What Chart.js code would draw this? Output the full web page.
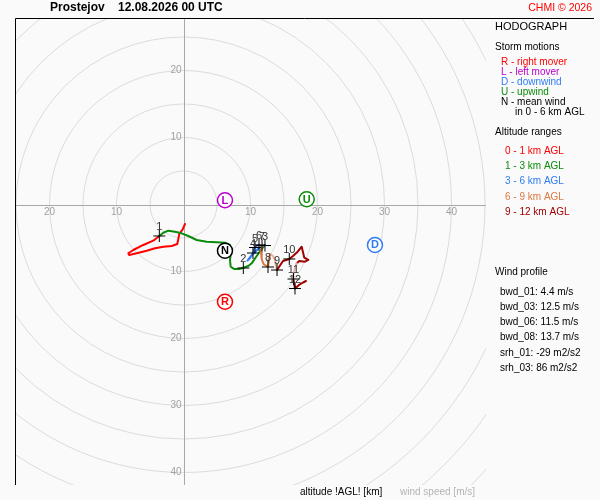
<!DOCTYPE html>
<html><head><meta charset="utf-8">
<script src="https://cdn.jsdelivr.net/npm/chart.js@4.4.1/dist/chart.umd.min.js"></script>
<style>html,body{margin:0;padding:0;background:#fafafa;}#wrap{width:600px;height:500px;}</style>
</head><body><div id="wrap"><canvas id="c" width="600" height="500"></canvas></div>
<script>
// ---- data (u, v in m/s) ----
const seg01U = [0.22,-0.12,-0.63,-0.78,-0.93,-1.76,-3.01,-4.25,-5.49,-6.99,-8.09,-8.24,-7.49,-6.00,-4.51,-3.61];
const seg01V = [-2.91,-3.70,-4.40,-5.19,-5.90,-6.19,-6.30,-6.54,-6.90,-7.28,-7.54,-7.28,-6.79,-6.04,-5.40,-4.70];
const seg13U = [-3.61,-3.01,-2.27,-1.27,-0.27,0.72,1.97,3.46,4.96,6.19,6.94,7.09,6.94,7.04,7.54,8.33,8.93,9.67,10.18,10.82,11.57,12.16];
const seg13V = [-4.70,-4.21,-3.91,-4.06,-4.30,-4.70,-5.30,-5.55,-5.64,-5.70,-6.04,-7.04,-8.28,-9.28,-9.63,-9.63,-9.43,-9.18,-8.78,-7.84,-6.79,-6.04];
const seg36U = [12.16,11.12,10.07,9.55,9.93,10.37,10.52,10.67,10.97,11.27];
const seg36V = [-6.04,-6.64,-7.69,-8.36,-7.99,-7.24,-6.79,-6.34,-6.12,-6.04];
const seg69U = [11.27,11.72,11.57,11.67,11.94,12.61,12.76,12.91];
const seg69V = [-6.04,-6.19,-7.09,-8.13,-8.88,-9.33,-8.28,-7.39];
const seg89U = [12.91,13.36,13.66,13.81,13.96];
const seg89V = [-7.39,-7.69,-8.28,-9.18,-9.78];
const seg912U = [13.96,14.85,15.79,16.39,17.04,17.64,17.79,18.03,18.63,18.13,17.28,16.90];
const seg912V = [-9.78,-8.43,-8.13,-7.64,-7.04,-6.30,-6.94,-7.94,-8.28,-8.54,-8.43,-8.78];
const seg1011U = [16.90,16.64,16.39,16.42];
const seg1011V = [-8.78,-9.52,-10.52,-11.27];
const seg1112U = [16.42,16.64,17.24,17.84,18.28];
const seg1112V = [-11.27,-12.54,-12.01,-11.64,-11.42];

const kmLabels = ['1','2','3','4','5','6','7','8','9','10','11','12'];
const kmU = [-3.61,8.93,12.16,10.37,10.67,11.27,11.72,12.61,13.96,15.79,16.42,16.64];
const kmV = [-4.70,-9.48,-6.12,-7.24,-6.42,-6.04,-6.12,-9.33,-9.78,-8.13,-11.12,-12.54];

const stormLabels = ['R','L','D','U','N'];
const stormU = [6.19,6.19,28.58,18.39,6.19];
const stormV = [-14.51,0.63,-6.04,0.78,-6.90];

const ringSpeeds = [5,10,15,20,25,30,35,40,45,50,55,60,65];
const tickSpeeds = [10,20,30,40];
const tickLabels = ['10','20','30','40'];

const windProfile = ['bwd_01: 4.4 m/s','bwd_03: 12.5 m/s','bwd_06: 11.5 m/s','bwd_08: 13.7 m/s'];
const helicity = ['srh_01: -29 m2/s2','srh_03: 86 m2/s2'];

// ---- styles ----
const C_RED='#ff0000', C_GREEN='#0a8c0a', C_BLUE='#2f7cf6', C_ORANGE='#d9783f', C_DRED='#a00000', C_PURPLE='#bb00cc';
const stormColors=[C_RED,C_PURPLE,C_BLUE,C_GREEN,'#000000'];
const FONT='"Liberation Sans", Arial, sans-serif';

function pts(u,v){return u.map((a,i)=>({x:a,y:v[i]}));}
function lineDs(u,v,color,order){
  return {type:'scatter',data:pts(u,v),showLine:true,borderColor:color,borderWidth:2,pointRadius:0,
    pointHoverRadius:0,tension:0,borderJoinStyle:'round',borderCapStyle:'round',order:order};
}

const datasets=[
  {data:pts(stormU,stormV),pointStyle:'circle',pointRadius:7.5,pointBackgroundColor:'#ffffff',
   pointBorderColor:stormColors,pointBorderWidth:1.5,showLine:false,order:0},
  {data:pts(kmU,kmV),pointStyle:'cross',pointRadius:6,pointBorderColor:'#000000',pointBorderWidth:1,showLine:false,order:1},
  lineDs(seg1112U,seg1112V,C_DRED,2),
  lineDs(seg1011U,seg1011V,'#e8b4b4',3),
  lineDs(seg912U,seg912V,C_DRED,4),
  lineDs(seg89U,seg89V,'#eab197',5),
  lineDs(seg69U,seg69V,C_ORANGE,6),
  lineDs(seg36U,seg36V,C_BLUE,7),
  lineDs(seg13U,seg13V,C_GREEN,8),
  lineDs(seg01U,seg01V,C_RED,9)
];

const hodoPlugin={
  id:'hodo',
  beforeDraw(chart){
    const ctx=chart.ctx;ctx.save();ctx.fillStyle='#fafafa';ctx.fillRect(0,0,chart.width,chart.height);ctx.restore();
  },
  beforeDatasetsDraw(chart){
    const {ctx,chartArea:a,scales:{x,y}}=chart;
    const x0=x.getPixelForValue(0),y0=y.getPixelForValue(0);
    const k=x.getPixelForValue(1)-x0;
    ctx.save();
    ctx.beginPath();ctx.rect(a.left,a.top,a.right-a.left,a.bottom-a.top);ctx.clip();
    ctx.strokeStyle='#dcdcdc';ctx.lineWidth=1;
    ringSpeeds.forEach(r=>{ctx.beginPath();ctx.arc(x0,y0,r*k,0,Math.PI*2);ctx.stroke();});
    ctx.strokeStyle='#a8a8a8';
    ctx.beginPath();
    ctx.moveTo(a.left,Math.round(y0)+0.5);ctx.lineTo(a.right,Math.round(y0)+0.5);
    ctx.moveTo(Math.round(x0)+0.5,a.top);ctx.lineTo(Math.round(x0)+0.5,a.bottom);
    ctx.stroke();
    ctx.fillStyle='#a0a0a0';ctx.font='10px '+FONT;
    tickSpeeds.forEach((t,i)=>{
      [-1,1].forEach(s=>{
        const px=x.getPixelForValue(s*t);
        if(px>a.left+5&&px<a.right-5){ctx.textAlign='center';ctx.textBaseline='middle';ctx.fillText(tickLabels[i],px,y0+8);}
        const py=y.getPixelForValue(s*t);
        if(py>a.top+5&&py<a.bottom-5){ctx.textAlign='right';ctx.textBaseline='middle';ctx.fillText(tickLabels[i],x0-2,py);}
      });
    });
    ctx.restore();
    // frame
    ctx.save();ctx.strokeStyle='#000';ctx.lineWidth=1;ctx.beginPath();
    ctx.moveTo(a.left+0.5,a.bottom);ctx.lineTo(a.left+0.5,a.top+0.5);ctx.lineTo(594,a.top+0.5);ctx.stroke();ctx.restore();
  },
  afterDatasetsDraw(chart){
    const ctx=chart.ctx;
    ctx.save();
    const sm=chart.getDatasetMeta(0).data;
    ctx.font='bold 11px '+FONT;ctx.textAlign='center';ctx.textBaseline='middle';
    sm.forEach((el,i)=>{ctx.fillStyle=stormColors[i];ctx.fillText(stormLabels[i],el.x,el.y+0.5);});
    const km=chart.getDatasetMeta(1).data;
    ctx.font='11px '+FONT;ctx.fillStyle='#333';
    km.forEach((el,i)=>{ctx.fillText(kmLabels[i],el.x,el.y-9);});
    ctx.restore();
  },
  afterDraw(chart){
    const ctx=chart.ctx;ctx.save();
    ctx.textBaseline='middle';ctx.textAlign='left';
    ctx.font='bold 12px '+FONT;ctx.fillStyle='#000';
    ctx.fillText('Prostejov',50,8);ctx.fillText('12.08.2026 00 UTC',118,8);
    ctx.font='10.5px '+FONT;ctx.fillStyle='#ff0000';ctx.textAlign='right';ctx.fillText('CHMI © 2026',592,8);
    ctx.textAlign='left';
    ctx.font='11px '+FONT;ctx.fillStyle='#000';ctx.fillText('HODOGRAPH',495,26.5);
    ctx.font='10px '+FONT;
    ctx.fillText('Storm motions',495,47);
    const sl=[['R - right mover',C_RED],['L - left mover',C_PURPLE],['D - downwind',C_BLUE],['U - upwind',C_GREEN],['N - mean wind','#000']];
    sl.forEach((s,i)=>{ctx.fillStyle=s[1];ctx.fillText(s[0],501,62+i*10);});
    ctx.fillStyle='#000';ctx.fillText('in 0 - 6 km AGL',515,112);
    ctx.fillText('Altitude ranges',495,132);
    const al=[['0 - 1 km AGL',C_RED],['1 - 3 km AGL',C_GREEN],['3 - 6 km AGL',C_BLUE],['6 - 9 km AGL',C_ORANGE],['9 - 12 km AGL',C_DRED]];
    al.forEach((s,i)=>{ctx.fillStyle=s[1];ctx.fillText(s[0],505,151.5+i*15.1);});
    ctx.fillStyle='#000';
    ctx.fillText('Wind profile',495,272);
    windProfile.forEach((t,i)=>ctx.fillText(t,500,292+i*15.1));
    helicity.forEach((t,i)=>ctx.fillText(t,500,353+i*15));
    ctx.fillText('altitude !AGL! [km]',300,492);
    ctx.fillStyle='#b4b4b4';ctx.fillText('wind speed [m/s]',400,492);
    ctx.restore();
  }
};

const K=6.7, OX=183.5, OY=204.5;
new Chart(document.getElementById('c'),{
  type:'scatter',
  data:{datasets:datasets},
  options:{
    responsive:false,animation:false,devicePixelRatio:1,
    layout:{padding:{left:15,top:18,right:114,bottom:15}},
    scales:{
      x:{type:'linear',display:false,min:(15-OX)/K,max:(486-OX)/K},
      y:{type:'linear',display:false,min:(OY-485)/K,max:(OY-18)/K}
    },
    plugins:{legend:{display:false},tooltip:{enabled:false}},
    events:[]
  },
  plugins:[hodoPlugin]
});
</script></body></html>
